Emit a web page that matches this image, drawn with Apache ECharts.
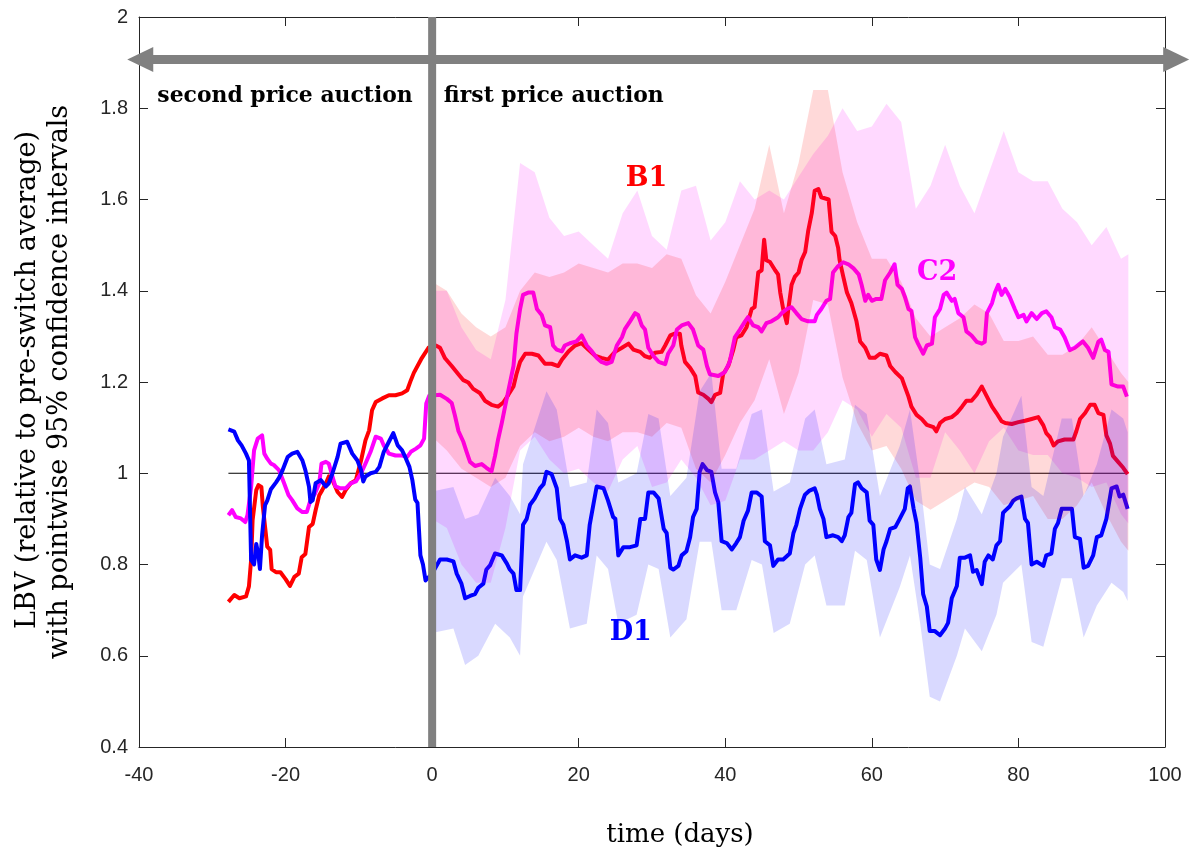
<!DOCTYPE html>
<html><head><meta charset="utf-8">
<script src="https://cdn.jsdelivr.net/npm/echarts@6/dist/echarts.min.js"></script>
<style>html,body{margin:0;padding:0;background:#fff}#c{width:1203px;height:854px}</style>
</head><body><div id="c"></div><script>
// ---- series values: [day, LBV] ----
const B1 = [[-27.8,0.718],[-27.0,0.733],[-26.3,0.726],[-25.4,0.730],[-25.0,0.752],[-24.7,0.81],[-24.5,0.897],[-24.0,0.963],[-23.7,0.974],[-23.3,0.970],[-23.1,0.927],[-22.8,0.883],[-22.5,0.839],[-22.1,0.832],[-21.9,0.79],[-21.3,0.783],[-20.7,0.783],[-20.0,0.768],[-19.4,0.753],[-18.8,0.773],[-18.2,0.78],[-17.8,0.816],[-17.3,0.823],[-16.8,0.882],[-16.3,0.889],[-15.9,0.919],[-15.4,0.952],[-15.0,0.963],[-14.5,0.978],[-14.1,0.993],[-13.6,0.985],[-12.9,0.959],[-12.3,0.948],[-11.8,0.963],[-11.1,0.978],[-10.4,0.985],[-9.7,1.028],[-9.1,1.072],[-8.6,1.094],[-8.2,1.138],[-7.7,1.156],[-6.8,1.164],[-5.9,1.171],[-5.0,1.171],[-4.1,1.175],[-3.4,1.182],[-2.9,1.204],[-2.5,1.22],[-1.5,1.25],[-0.5,1.275],[0.5,1.28],
[1.08,1.275],[1.76,1.252],[2.67,1.235],[3.58,1.217],[4.26,1.204],[4.94,1.199],[5.6,1.185],[6.5,1.176],[7.2,1.159],[8.1,1.15],[9.0,1.146],[9.7,1.155],[10.4,1.172],[11.1,1.19],[11.5,1.217],[12.0,1.244],[12.7,1.262],[13.6,1.262],[14.5,1.258],[15.4,1.24],[16.3,1.24],[17.2,1.235],[17.7,1.249],[18.6,1.267],[19.5,1.28],[20.4,1.285],[21.3,1.271],[22.2,1.258],[23.1,1.253],[24.0,1.249],[24.95,1.266],[25.9,1.275],[26.8,1.284],[27.45,1.271],[28.4,1.266],[29.0,1.257],[29.7,1.253],[30.4,1.264],[31.3,1.266],[31.8,1.28],[32.5,1.302],[33.1,1.306],[33.8,1.306],[34.0,1.28],[34.5,1.244],[35.2,1.231],[35.9,1.213],[36.3,1.177],[37.0,1.172],[37.7,1.163],[38.1,1.156],[38.6,1.172],[39.3,1.176],[39.7,1.217],[40.4,1.235],[41.1,1.271],[41.5,1.298],[42.2,1.302],[42.9,1.32],[43.6,1.36],[44.0,1.364],[44.5,1.44],[44.96,1.445],[45.3,1.512],[45.6,1.467],[46.1,1.463],[46.8,1.445],[47.2,1.436],[47.5,1.396],[47.9,1.36],[48.4,1.329],[48.6,1.36],[49.05,1.413],[49.5,1.431],[50.0,1.44],[50.4,1.467],[50.9,1.485],[51.3,1.53],[51.8,1.57],[52.2,1.619],[52.7,1.623],[53.1,1.605],[54.1,1.60],[54.5,1.529],[55.0,1.52],[55.4,1.494],[55.6,1.467],[56.1,1.431],[56.6,1.396],[57.2,1.373],[57.9,1.333],[58.4,1.289],[59.1,1.275],[59.7,1.253],[60.4,1.253],[61.1,1.262],[62.0,1.258],[62.5,1.235],[63.2,1.222],[64.1,1.208],[64.5,1.19],[65.0,1.168],[65.4,1.146],[66.1,1.128],[66.8,1.119],[67.5,1.106],[68.4,1.101],[68.8,1.092],[69.3,1.11],[70.0,1.119],[70.9,1.123],[71.6,1.132],[72.3,1.146],[72.9,1.159],[73.6,1.159],[74.3,1.172],[75.0,1.19],[75.7,1.168],[76.4,1.146],[77.0,1.132],[77.7,1.114],[78.2,1.11],[79.1,1.108],[80.0,1.112],[80.9,1.115],[81.8,1.119],[82.7,1.123],[83.4,1.105],[83.8,1.088],[84.3,1.079],[84.8,1.061],[85.4,1.07],[86.3,1.074],[87.5,1.074],[87.9,1.092],[88.4,1.119],[89.1,1.132],[89.8,1.15],[90.4,1.15],[90.9,1.132],[91.6,1.128],[92.0,1.083],[92.5,1.065],[92.9,1.038],[93.6,1.025],[94.3,1.012],[94.9,0.998]];

const C2 = [[-27.8,0.908],[-27.3,0.919],[-26.8,0.904],[-26.1,0.901],[-25.5,0.893],[-25.2,0.908],[-24.7,0.97],[-24.3,1.05],[-23.8,1.076],[-23.2,1.083],[-22.9,1.043],[-22.5,1.032],[-22.0,1.021],[-21.6,1.018],[-20.9,1.007],[-20.2,0.978],[-19.6,0.952],[-19.1,0.941],[-18.4,0.923],[-17.7,0.915],[-17.1,0.915],[-16.6,0.941],[-16.0,0.955],[-15.4,0.978],[-15.1,1.021],[-14.5,1.025],[-14.1,1.021],[-13.6,0.993],[-13.2,0.971],[-12.5,0.967],[-11.8,0.967],[-11.1,0.978],[-10.4,0.982],[-9.7,1.0],[-9.1,1.021],[-8.4,1.047],[-7.7,1.08],[-7.0,1.076],[-6.6,1.061],[-5.9,1.043],[-5.0,1.039],[-4.1,1.039],[-3.4,1.036],[-2.9,1.047],[-2.2,1.054],[-1.6,1.061],[-1.1,1.076],[-0.8,1.153],[-0.4,1.17],
[1.08,1.172],[2.0,1.163],[2.67,1.154],[3.1,1.127],[3.6,1.092],[4.26,1.069],[4.7,1.047],[5.17,1.025],[5.85,1.016],[6.76,1.02],[7.4,1.012],[8.1,1.004],[8.58,1.038],[9.0,1.074],[9.5,1.11],[9.95,1.146],[10.4,1.181],[11.1,1.235],[11.5,1.306],[12.0,1.36],[12.4,1.391],[13.1,1.396],[13.8,1.396],[14.3,1.36],[14.95,1.347],[15.4,1.324],[16.1,1.32],[16.5,1.28],[17.0,1.271],[17.7,1.267],[18.1,1.28],[18.8,1.285],[19.7,1.289],[20.4,1.302],[21.1,1.28],[21.8,1.267],[22.45,1.253],[23.1,1.244],[23.8,1.24],[24.5,1.244],[25.2,1.28],[25.9,1.298],[26.3,1.316],[27.0,1.333],[27.7,1.351],[28.1,1.347],[28.6,1.324],[29.05,1.315],[29.5,1.275],[30.2,1.257],[30.9,1.244],[31.8,1.239],[32.2,1.262],[32.9,1.28],[33.4,1.315],[34.05,1.324],[34.95,1.329],[35.6,1.315],[36.3,1.28],[37.0,1.271],[37.5,1.235],[37.9,1.217],[39.05,1.213],[39.95,1.222],[40.6,1.244],[41.3,1.298],[42.0,1.315],[42.7,1.333],[43.1,1.342],[43.8,1.324],[44.5,1.32],[44.96,1.311],[45.6,1.329],[46.3,1.333],[47.2,1.342],[47.7,1.351],[48.4,1.36],[49.05,1.364],[49.7,1.351],[50.4,1.338],[51.3,1.333],[52.2,1.333],[52.5,1.347],[53.1,1.36],[53.8,1.378],[54.3,1.382],[54.7,1.44],[55.4,1.454],[56.1,1.4625],[56.8,1.458],[57.5,1.449],[58.2,1.436],[58.6,1.413],[59.1,1.378],[59.5,1.391],[60.0,1.378],[60.6,1.382],[61.3,1.382],[61.8,1.423],[62.5,1.44],[63.1,1.458],[63.5,1.413],[64.1,1.404],[64.5,1.387],[65.0,1.36],[65.4,1.356],[65.9,1.298],[66.3,1.284],[67.0,1.262],[67.5,1.28],[68.2,1.284],[68.6,1.342],[69.3,1.36],[69.8,1.391],[70.2,1.396],[70.9,1.378],[71.3,1.382],[71.8,1.351],[72.5,1.342],[72.9,1.311],[73.6,1.302],[74.3,1.288],[75.0,1.284],[75.4,1.288],[75.7,1.351],[76.4,1.373],[76.8,1.396],[77.25,1.413],[77.7,1.391],[78.2,1.404],[78.8,1.387],[79.5,1.36],[80.0,1.342],[80.7,1.347],[81.1,1.333],[81.8,1.351],[82.5,1.338],[83.2,1.351],[83.8,1.355],[84.5,1.342],[84.97,1.32],[85.7,1.315],[86.3,1.298],[87.0,1.27],[87.7,1.275],[88.4,1.284],[88.8,1.289],[89.5,1.275],[90.2,1.253],[90.9,1.288],[91.3,1.293],[91.8,1.27],[92.3,1.266],[92.7,1.195],[93.6,1.19],[94.3,1.19],[94.8,1.168]];

const D1 = [[-27.8,1.096],[-27.0,1.091],[-26.5,1.072],[-26.0,1.061],[-25.4,1.043],[-25.0,1.028],[-24.7,0.81],[-24.3,0.80],[-24.0,0.845],[-23.7,0.82],[-23.5,0.79],[-23.2,0.865],[-22.8,0.93],[-22.5,0.94],[-22.0,0.965],[-21.3,0.98],[-20.9,0.99],[-20.4,1.007],[-19.7,1.036],[-19.1,1.043],[-18.4,1.047],[-17.7,1.028],[-17.3,1.007],[-16.8,0.97],[-16.6,0.937],[-16.3,0.941],[-15.9,0.978],[-15.2,0.985],[-14.5,0.971],[-14.1,0.978],[-13.6,1.0],[-12.9,1.036],[-12.5,1.065],[-11.6,1.069],[-10.9,1.043],[-10.2,1.028],[-9.7,1.007],[-9.4,0.982],[-9.1,0.993],[-8.4,1.0],[-7.7,1.003],[-7.2,1.014],[-6.6,1.047],[-5.9,1.069],[-5.3,1.088],[-4.7,1.061],[-4.1,1.05],[-3.6,1.033],[-3.1,1.014],[-2.7,0.985],[-2.3,0.942],[-2.0,0.935],[-1.8,0.877],[-1.6,0.82],[-1.25,0.80],[-0.9,0.765],[0.0,0.78],
[1.08,0.811],[2.0,0.811],[2.9,0.807],[3.35,0.78],[4.0,0.758],[4.5,0.726],[5.17,0.731],[5.85,0.735],[6.3,0.749],[6.99,0.758],[7.4,0.789],[7.9,0.798],[8.58,0.824],[9.5,0.82],[10.2,0.802],[10.6,0.789],[11.1,0.78],[11.5,0.744],[12.0,0.744],[12.4,0.887],[12.9,0.9],[13.36,0.931],[14.0,0.945],[14.7,0.967],[15.2,0.976],[15.6,1.003],[16.3,0.998],[17.0,0.967],[17.45,0.9],[17.9,0.887],[18.4,0.851],[18.8,0.811],[19.5,0.82],[20.4,0.815],[21.1,0.82],[21.5,0.887],[22.0,0.931],[22.45,0.971],[23.4,0.967],[24.0,0.94],[24.7,0.904],[25.0,0.9],[25.4,0.82],[26.1,0.838],[27.0,0.838],[27.9,0.842],[28.4,0.9],[29.05,0.9],[29.5,0.958],[30.2,0.958],[30.9,0.945],[31.6,0.878],[32.0,0.869],[32.5,0.793],[32.9,0.789],[33.6,0.797],[34.05,0.82],[34.7,0.829],[35.2,0.86],[35.6,0.904],[36.1,0.922],[36.5,1.003],[36.9,1.02],[37.5,1.007],[38.1,1.003],[38.6,0.958],[39.05,0.936],[39.5,0.851],[40.2,0.847],[40.9,0.833],[41.5,0.847],[42.0,0.86],[42.5,0.896],[43.1,0.918],[43.6,0.958],[44.3,0.958],[44.96,0.949],[45.4,0.851],[46.1,0.842],[46.55,0.797],[47.2,0.811],[47.9,0.811],[48.8,0.824],[49.3,0.869],[49.7,0.887],[50.2,0.922],[50.87,0.953],[51.5,0.962],[52.2,0.967],[52.5,0.953],[52.9,0.922],[53.4,0.9],[53.8,0.86],[54.7,0.864],[55.4,0.86],[55.9,0.851],[56.3,0.864],[56.8,0.904],[57.2,0.913],[57.7,0.976],[58.1,0.98],[58.6,0.967],[59.3,0.958],[59.7,0.896],[60.2,0.887],[60.6,0.811],[61.1,0.788],[61.6,0.833],[62.0,0.851],[62.5,0.878],[63.2,0.882],[63.8,0.9],[64.5,0.922],[64.9,0.967],[65.2,0.971],[65.7,0.922],[66.1,0.891],[66.6,0.815],[67.0,0.735],[67.5,0.708],[67.9,0.654],[68.6,0.654],[69.3,0.645],[69.96,0.659],[70.4,0.672],[70.9,0.726],[71.6,0.753],[72.0,0.815],[72.7,0.815],[73.4,0.82],[73.8,0.784],[74.3,0.788],[75.0,0.757],[75.4,0.806],[75.9,0.82],[76.5,0.811],[77.0,0.842],[77.5,0.851],[77.9,0.913],[78.2,0.918],[78.8,0.927],[79.3,0.94],[79.75,0.945],[80.4,0.949],[80.9,0.9],[81.3,0.891],[81.8,0.80],[82.5,0.806],[83.4,0.797],[83.8,0.82],[84.5,0.824],[84.97,0.878],[85.4,0.891],[85.9,0.922],[86.3,0.922],[87.3,0.922],[87.7,0.86],[88.4,0.856],[88.9,0.793],[89.5,0.797],[90.2,0.82],[90.7,0.86],[91.3,0.864],[92.0,0.9],[92.7,0.967],[93.4,0.971],[93.8,0.949],[94.3,0.953],[94.9,0.922]];

// ---- confidence bands ----
const bandDays = [0,2,4,6,8,10,12,14,16,18,20,22,24,26,28,30,32,34,36,38,40,42,44,46,48,50,52,54,56,58,60,62,64,66,68,70,72,74,76,78,80,82,84,86,88,90,92,94,95];
const B1_hi = [1.42,1.40,1.35,1.32,1.30,1.32,1.40,1.44,1.43,1.44,1.46,1.45,1.44,1.46,1.46,1.45,1.48,1.47,1.39,1.35,1.42,1.50,1.58,1.72,1.57,1.68,1.84,1.84,1.66,1.55,1.47,1.47,1.42,1.34,1.30,1.32,1.34,1.37,1.35,1.29,1.29,1.30,1.26,1.26,1.28,1.32,1.27,1.22,1.20];
const B1_lo = [1.08,1.05,1.01,0.99,0.97,0.99,1.06,1.09,1.07,1.08,1.10,1.08,1.07,1.09,1.09,1.08,1.11,1.10,1.01,0.98,1.04,1.11,1.16,1.25,1.13,1.22,1.38,1.37,1.21,1.11,1.05,1.06,1.01,0.94,0.92,0.94,0.96,0.98,0.97,0.93,0.94,0.95,0.90,0.90,0.93,0.98,0.91,0.85,0.83];
const C2_hi = [1.40,1.40,1.32,1.27,1.25,1.38,1.68,1.66,1.56,1.52,1.53,1.50,1.47,1.57,1.62,1.52,1.49,1.62,1.63,1.51,1.55,1.64,1.60,1.62,1.60,1.65,1.70,1.74,1.80,1.75,1.76,1.81,1.77,1.58,1.63,1.72,1.63,1.57,1.66,1.75,1.66,1.64,1.64,1.58,1.55,1.50,1.54,1.47,1.48];
const C2_lo = [0.90,0.88,0.80,0.76,0.76,0.88,1.05,1.08,1.03,1.00,1.01,0.98,0.96,1.03,1.06,0.97,0.98,1.03,0.99,0.93,0.94,1.03,1.03,1.05,1.07,1.05,1.05,1.09,1.16,1.14,1.08,1.13,1.10,0.99,0.99,1.09,1.05,1.00,1.07,1.10,1.05,1.04,1.04,1.00,0.99,0.97,0.98,0.91,0.89];
const D1_bandDays = [0,2.9,4.5,6.3,8.6,10.6,12.0,12.4,15.6,17.0,18.8,21.1,22.45,24.0,25.4,27.9,29.5,30.9,32.5,34.7,36.5,38.1,39.5,41.5,43.6,45.0,46.6,48.8,50.9,52.2,53.8,56.3,57.7,59.3,61.1,63.8,65.2,66.6,67.9,69.3,71.6,72.7,75.0,77.0,77.9,80.4,81.8,83.4,85.9,87.3,88.9,90.7,92.7,94.3,94.9];
const D1_hi = [0.96,0.97,0.90,0.91,0.99,0.95,0.91,1.02,1.18,1.14,0.97,0.98,1.14,1.11,0.98,1.00,1.13,1.12,0.95,0.99,1.18,1.22,1.01,1.01,1.13,1.14,0.96,0.98,1.12,1.14,1.02,1.03,1.15,1.13,0.95,1.06,1.14,0.98,0.80,0.79,0.90,0.97,0.91,1.00,1.08,1.17,0.97,0.95,1.12,1.12,0.95,1.02,1.14,1.12,1.09];
const D1_lo = [0.65,0.66,0.58,0.60,0.67,0.64,0.60,0.73,0.85,0.81,0.66,0.67,0.82,0.79,0.67,0.69,0.80,0.79,0.64,0.68,0.85,0.85,0.70,0.70,0.81,0.80,0.65,0.67,0.80,0.82,0.71,0.71,0.83,0.81,0.64,0.75,0.82,0.67,0.51,0.50,0.60,0.66,0.61,0.69,0.76,0.80,0.63,0.62,0.77,0.77,0.64,0.71,0.76,0.74,0.72];

// ---- axes / annotations ----
const xTicks = {min: -40, max: 100, interval: 20};
const yTicks = {min: 0.4, max: 2, interval: 0.2};
const baseline = [[-27.8, 1], [94.9, 1]];
const switchDay = 0;
const arrowSpan = [-41.6, 103.3];
const arrowLevel = 1.907;
const labels = [
  {text: 'second price auction', at: [-37.5, 1.827], color: '#000000', size: 21.9, align: 'left'},
  {text: 'first price auction', at: [1.6, 1.827], color: '#000000', size: 21.9, align: 'left'},
  {text: 'B1', at: [29.25, 1.645], color: '#ff0000', size: 27, align: 'center'},
  {text: 'C2', at: [68.9, 1.439], color: '#ff00ff', size: 27, align: 'center'},
  {text: 'D1', at: [27.1, 0.65], color: '#0000ff', size: 27, align: 'center'}
];

const AX = '#262626';
function xAxisDef(pos, showLabel) {
  return {type: 'value', position: pos, min: xTicks.min, max: xTicks.max, interval: xTicks.interval,
    axisLine: {show: true, onZero: false, lineStyle: {color: AX, width: 1}},
    axisTick: {show: true, inside: true, length: 9, lineStyle: {color: AX, width: 1}},
    axisLabel: {show: showLabel, color: AX, fontFamily: 'Liberation Sans', fontSize: 20, margin: 18},
    splitLine: {show: false}};
}
function yAxisDef(pos, showLabel) {
  return {type: 'value', position: pos, min: yTicks.min, max: yTicks.max, interval: yTicks.interval,
    axisLine: {show: true, onZero: false, lineStyle: {color: AX, width: 1}},
    axisTick: {show: true, inside: true, length: 9, lineStyle: {color: AX, width: 1}},
    axisLabel: {show: showLabel, color: AX, fontFamily: 'Liberation Sans', fontSize: 20, margin: 11},
    splitLine: {show: false}};
}
function lineSeries(name, data, color) {
  return {name, type: 'line', data, showSymbol: false, symbol: 'none', smooth: false,
    lineStyle: {color, width: 4, join: 'round'}, z: 2, silent: true};
}
function bandSeries(name, days, lo, hi, color) {
  return {name, type: 'custom', z: 3, silent: true,
    data: days.map((d, i) => [d, lo[i], hi[i]]),
    encode: {x: 0, y: [1, 2]},
    renderItem: function (params, api) {
      if (params.dataIndex !== 0) return null;
      const pts = [];
      for (let i = 0; i < days.length; i++) pts.push(api.coord([days[i], hi[i]]));
      for (let i = days.length - 1; i >= 0; i--) pts.push(api.coord([days[i], lo[i]]));
      return {type: 'polygon', shape: {points: pts}, style: {fill: color}};
    }};
}

const chart = echarts.init(document.getElementById('c'), null, {renderer: 'canvas'});
chart.setOption({
  animation: false,
  backgroundColor: '#ffffff',
  grid: {left: 139, right: 38, top: 17, bottom: 107, containLabel: false},
  xAxis: [xAxisDef('bottom', true), xAxisDef('top', false)],
  yAxis: [yAxisDef('left', true), yAxisDef('right', false)],
  graphic: [
    {type: 'text', x: 28, y: 380, rotation: Math.PI / 2,
      style: {text: 'LBV (relative to pre-switch average)', fill: '#000', font: '27px "DejaVu Serif"', align: 'center', verticalAlign: 'middle'}},
    {type: 'text', x: 60, y: 382, rotation: Math.PI / 2,
      style: {text: 'with pointwise 95% confidence intervals', fill: '#000', font: '27px "DejaVu Serif"', align: 'center', verticalAlign: 'middle'}},
    {type: 'text', x: 680, y: 835,
      style: {text: 'time (days)', fill: '#000', font: '26px "DejaVu Serif"', align: 'center', verticalAlign: 'middle'}}
  ],
  series: [
    {name: 'baseline', type: 'line', data: baseline, showSymbol: false, symbol: 'none',
      lineStyle: {color: '#000000', width: 1}, z: 2, silent: true},
    lineSeries('B1', B1, '#ff0000'),
    lineSeries('C2', C2, '#ff00ff'),
    lineSeries('D1', D1, '#0000ff'),
    bandSeries('C2 band', bandDays, C2_lo, C2_hi, 'rgba(255,0,255,0.15)'),
    bandSeries('B1 band', bandDays, B1_lo, B1_hi, 'rgba(255,0,0,0.15)'),
    bandSeries('D1 band', D1_bandDays, D1_lo, D1_hi, 'rgba(0,0,255,0.15)'),
    {name: 'annotations', type: 'custom', z: 5, silent: true, clip: false,
      data: [[switchDay, arrowLevel]],
      encode: {x: 0, y: 1},
      renderItem: function (params, api) {
        const top = api.coord([switchDay, yTicks.max]);
        const bot = api.coord([switchDay, yTicks.min]);
        const L = api.coord([arrowSpan[0], arrowLevel]);
        const R = api.coord([arrowSpan[1], arrowLevel]);
        const gray = '#808080', hl = 26, hw = 12.5, sw = 4.5;
        const children = [
          {type: 'rect', shape: {x: top[0] - 4, y: top[1], width: 8, height: bot[1] - top[1]}, style: {fill: gray}},
          {type: 'rect', shape: {x: L[0] + hl - 1, y: L[1] - sw, width: (R[0] - hl + 1) - (L[0] + hl - 1), height: 2 * sw}, style: {fill: gray}},
          {type: 'polygon', shape: {points: [[L[0], L[1]], [L[0] + hl, L[1] - hw], [L[0] + hl, L[1] + hw]]}, style: {fill: gray}},
          {type: 'polygon', shape: {points: [[R[0], R[1]], [R[0] - hl, R[1] - hw], [R[0] - hl, R[1] + hw]]}, style: {fill: gray}}
        ];
        labels.forEach(function (lb) {
          const p = api.coord(lb.at);
          children.push({type: 'text', x: p[0], y: p[1],
            style: {text: lb.text, fill: lb.color, font: 'bold ' + lb.size + 'px "DejaVu Serif"', align: lb.align, verticalAlign: 'middle'}});
        });
        return {type: 'group', children};
      }}
  ]
});
</script></body></html>
